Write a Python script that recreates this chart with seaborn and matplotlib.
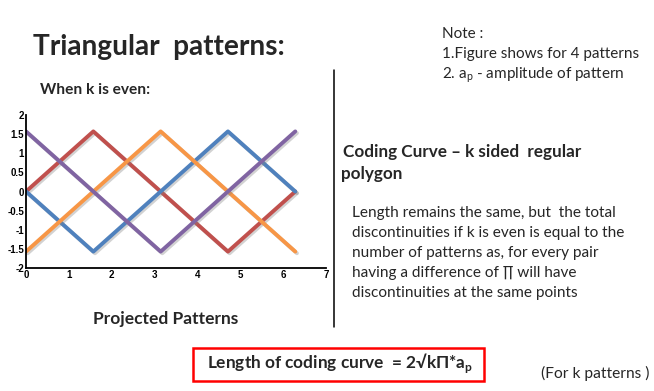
import numpy as np
import pandas as pd
import matplotlib
matplotlib.use("Agg")
import matplotlib.pyplot as plt
import matplotlib.patheffects as pe
from matplotlib.patches import Rectangle
import seaborn as sns

# ── Data ──────────────────────────────────────────────────────────────────────
x_vertices = [0.0, 1.571, 3.142, 4.712, 6.283]
red_vals = [0.0, 1.571, 0.0, -1.571, 0.0]
blue_vals = [0.0, -1.571, 0.0, 1.571, 0.0]
orange_vals = [-1.571, 0.0, 1.571, 0.0, -1.571]
purple_vals = [1.571, 0.0, -1.571, 0.0, 1.571]

pattern_names = ["red", "blue", "orange", "purple"]
pattern_colors = ["#C0504D", "#4F81BD", "#F79646", "#8064A2"]

x_ticks = [0, 1, 2, 3, 4, 5, 6, 7]
y_ticks = [-2, -1.5, -1, -0.5, 0, 0.5, 1, 1.5, 2]
y_tick_labels = ["-2", "-1.5", "-1", "-0.5", "0", "0.5", "1", "1.5", "2"]

W, H = 654, 391

sns.set_style("white")
plt.rcParams["font.family"] = ["Lato", "DejaVu Sans"]


def px(x, y):
    """Pixel position -> figure fraction."""
    return x / W, 1 - y / H


df = pd.concat([
    pd.DataFrame({"x": x_vertices, "y": vals, "pattern": name})
    for name, vals in zip(pattern_names, [red_vals, blue_vals, orange_vals, purple_vals])
])

fig = plt.figure(figsize=(W / 100, H / 100), dpi=100)
fig.patch.set_facecolor("white")

# plot area
x0, x1 = 26, 326
y0, y1 = 115, 268
ax = fig.add_axes([x0 / W, 1 - y1 / H, (x1 - x0) / W, (y1 - y0) / H])
sns.lineplot(data=df, x="x", y="y", hue="pattern", palette=dict(zip(pattern_names, pattern_colors)),
             legend=False, linewidth=2.8, ax=ax, sort=False)
for line in ax.lines:
    line.set_path_effects([pe.SimpleLineShadow(offset=(1.2, -1.2), shadow_color="gray", alpha=0.35),
                           pe.Normal()])

ax.set_xlim(0, 7)
ax.set_ylim(-2, 2)
ax.set_xticks(x_ticks)
ax.set_yticks(y_ticks)
ax.set_yticklabels(y_tick_labels)
ax.set_xlabel("")
ax.set_ylabel("")
for s in ["top", "right"]:
    ax.spines[s].set_visible(False)
for s in ["left", "bottom"]:
    ax.spines[s].set_color("black")
    ax.spines[s].set_linewidth(1.3)
ax.tick_params(direction="in", length=3, width=1, pad=1.5, labelsize=7, colors="black")
for lbl in ax.get_xticklabels() + ax.get_yticklabels():
    lbl.set_fontfamily("Liberation Sans")
    lbl.set_fontweight("bold")

# ── Text around the plot ──────────────────────────────────────────────────────
fig.text(*px(33, 55), "Triangular  patterns:", fontsize=20.2, fontweight="bold", va="baseline")
fig.text(*px(40, 94), "When k is even:", fontsize=11.2, fontweight="bold", va="baseline")
fig.text(*px(93, 324), "Projected Patterns", fontsize=12.5, fontweight="bold", va="baseline")

fig.text(*px(442, 38), "Note :", fontsize=11, va="baseline")
fig.text(*px(442, 58), "1.Figure shows for 4 patterns", fontsize=11, va="baseline")
fig.text(*px(442, 78), r"2. a$_\mathregular{p}$ - amplitude of pattern", fontsize=11, va="baseline")

fig.text(*px(343, 157), "Coding Curve \u2013 k sided  regular", fontsize=12.3, fontweight="bold", va="baseline")
fig.text(*px(341, 179), "polygon", fontsize=12.3, fontweight="bold", va="baseline")

para = ["Length remains the same, but  the total",
        "discontinuities if k is even is equal to the",
        "number of patterns as, for every pair",
        "having a difference of \u220f will have",
        "discontinuities at the same points"]
for i, line in enumerate(para):
    fig.text(*px(352, 217 + 20 * i), line, fontsize=11.1, va="baseline")

# separator
fig.add_artist(plt.Line2D([334 / W, 334 / W], [1 - 70 / H, 1 - 327 / H], color="black", linewidth=1.1))

# formula box
bx0, by0, bx1, by1 = 193, 348, 484, 381
fig.add_artist(Rectangle((bx0 / W, 1 - by1 / H), (bx1 - bx0) / W, (by1 - by0) / H,
                         transform=fig.transFigure, fill=False, edgecolor="#FF0000", linewidth=1.8))
fig.text(*px(207, 368), "Length of coding curve  = 2\u221ak\u03a0*a$_\\mathregular{p}$",
         fontsize=12.4, fontweight="bold", va="baseline")
fig.text(*px(541, 378), "(For k patterns )", fontsize=11.2, va="baseline")

fig.savefig("out.png", dpi=100, facecolor="white")
